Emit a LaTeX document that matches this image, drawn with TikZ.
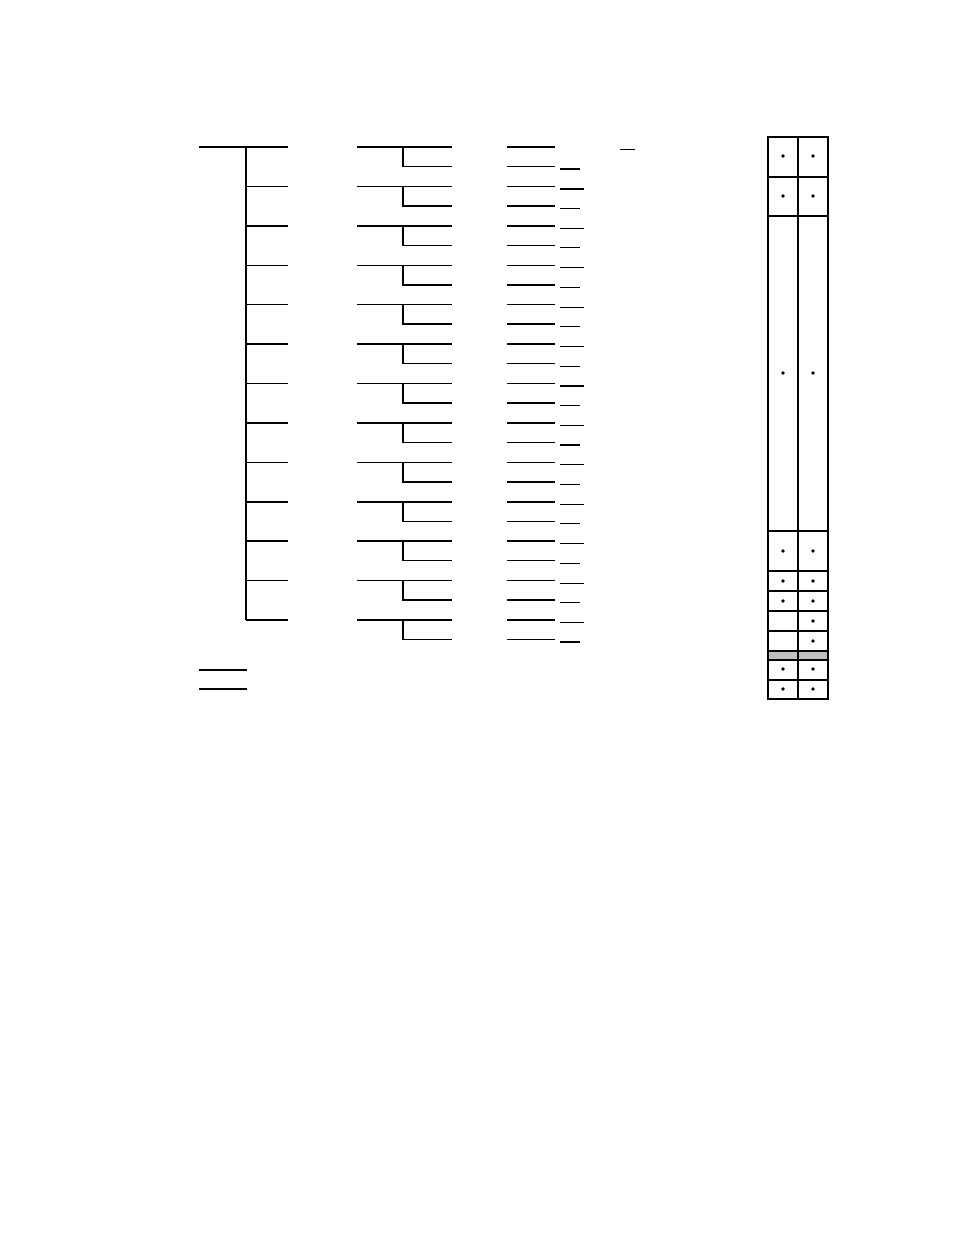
\documentclass[tikz,border=0pt]{standalone}
\usepackage{tikz}
\usetikzlibrary{positioning,calc}
\tikzstyle{rule}=[line width=1.5pt]
\tikzstyle{stub}=[line width=1.2pt]
\tikzstyle{frame}=[line width=2.2pt]
\tikzstyle{cellline}=[line width=1.2pt]
\tikzstyle{dot}=[fill=black,circle,inner sep=0pt,minimum size=3.6pt]
\definecolor{bandgray}{RGB}{192,192,192}

\begin{document}
\begin{tikzpicture}[x=1pt,y=-1pt]
\useasboundingbox (0,0) rectangle (954,1235);
% left bracket
\coordinate (root) at (199,147);
\coordinate (spine top) at (246,147);
\coordinate (spine bot) at (246,620);
\draw[rule] (root) -- (spine top);
\draw[rule] (spine top) -- (spine bot);
\foreach \i in {0,...,12} {
  \pgfmathsetmacro\y{147+39.42*\i}
  \coordinate (b\i) at (246,\y);
  \coordinate (be\i) at (288,\y);
  \draw[rule] (b\i) -- (be\i);
  % middle fork
  \coordinate (m\i) at (357,\y);
  \coordinate (mk\i) at (403,\y);
  \coordinate (me\i) at (452,\y);
  \coordinate (mkl\i) at (403,\y+19.5);
  \coordinate (mel\i) at (452,\y+19.5);
  \draw[rule] (m\i) -- (me\i);
  \draw[rule] (mk\i) -- (mkl\i) -- (mel\i);
  % right pair
  \coordinate (r\i) at (507,\y);
  \coordinate (re\i) at (555,\y);
  \coordinate (rl\i) at (507,\y+19.5);
  \coordinate (rel\i) at (555,\y+19.5);
  \draw[rule] (r\i) -- (re\i);
  \draw[rule] (rl\i) -- (rel\i);
  % stubs
  \coordinate (sl\i) at (560,\y+22);
  \coordinate (sle\i) at (580,\y+22);
  \draw[stub] (sl\i) -- (sle\i);
}
\foreach \i in {1,...,12} {
  \pgfmathsetmacro\y{147+39.42*\i}
  \coordinate (s\i) at (560,\y+2.5);
  \coordinate (se\i) at (584,\y+2.5);
  \draw[stub] (s\i) -- (se\i);
}
\coordinate (s0) at (620,149.5);
\coordinate (se0) at (635,149.5);
\draw[stub] (s0) -- (se0);
% loose lines
\coordinate (lo1) at (199,670);
\coordinate (loe1) at (247,670);
\coordinate (lo2) at (199,689);
\coordinate (loe2) at (247,689);
\draw[rule] (lo1) -- (loe1);
\draw[rule] (lo2) -- (loe2);

% table
\fill[bandgray] (768,651) rectangle (828,660);
\foreach \y in {177,216,531,571,591,611,631,651,660,680}
  \draw[cellline] (768,\y) -- (828,\y);
\draw[frame] (798,137) -- (798,699);
\draw[frame] (768,137) rectangle (828,699);
\foreach \y in {156,196,373,551,581,601,669,689}
  \node[dot] at (783,\y) {};
\foreach \y in {156,196,373,551,581,601,621,641,669,689}
  \node[dot] at (813,\y) {};
\end{tikzpicture}
\end{document}
